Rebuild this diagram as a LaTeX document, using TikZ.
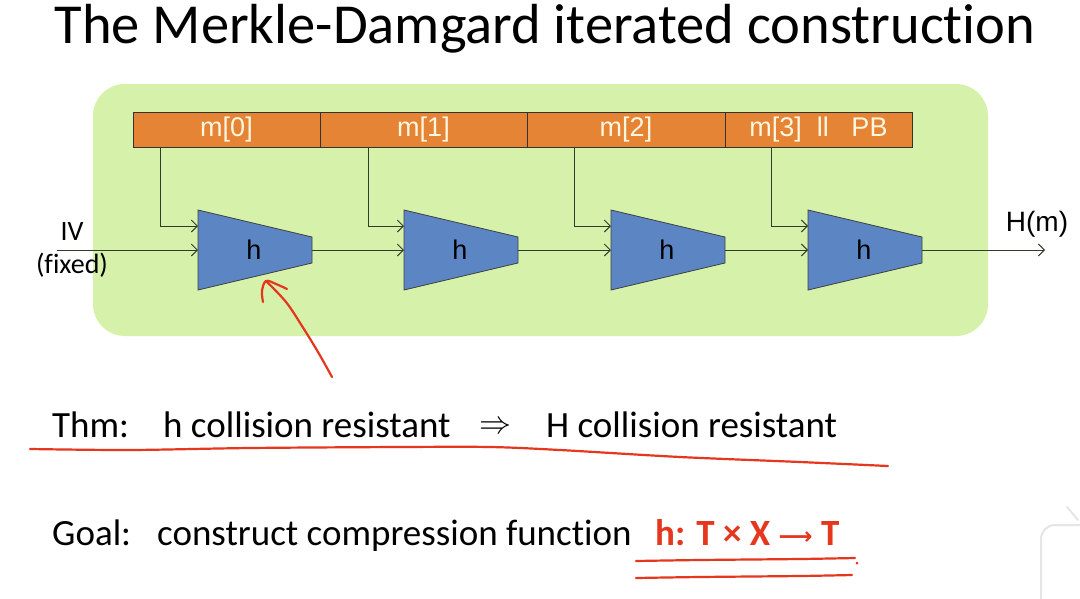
\documentclass[tikz,border=0pt]{standalone}
\usepackage{graphicx}
\usepackage{fontspec}
\setmainfont{Carlito}[Ligatures=NoCommon]
\newfontfamily\arialfont{Liberation Sans}
\newfontfamily\arrowfont{DejaVu Sans}
\usetikzlibrary{arrows.meta}

\definecolor{panelgreen}{RGB}{214,242,170}
\definecolor{msgorange}{RGB}{228,132,52}
\definecolor{msgtext}{RGB}{255,246,224}
\definecolor{hblue}{RGB}{92,133,196}
\definecolor{wire}{RGB}{50,60,45}
\definecolor{inkred}{RGB}{228,55,30}

\tikzset{
  panel/.style={fill=panelgreen, draw=none, rounded corners=32pt},
  msgcell/.style={fill=msgorange, draw=black!80, line width=0.8pt, inner sep=0pt, outer sep=0pt,
    minimum height=35pt, text=msgtext, font=\arialfont\fontsize{27}{30}\selectfont},
  hshape/.style={fill=hblue, draw=black!75, line width=0.8pt},
  hlabel/.style={font=\arialfont\fontsize{27}{30}\selectfont, inner sep=0pt},
  conn/.style={draw=wire, line width=0.9pt, -{Straight Barb[length=6pt,width=12pt]}},
  feed/.style={draw=wire, line width=0.9pt, -{Straight Barb[length=6pt,width=12pt]}},
  sidelabel/.style={font=\fontsize{28}{30}\selectfont, inner sep=0pt},
  bodytext/.style={font=\fontsize{37}{42}\selectfont, inner sep=0pt, anchor=base west},
  redpen/.style={draw=inkred, line width=2.2pt, line cap=round, line join=round},
}

\begin{document}
\begin{tikzpicture}[x=1pt,y=-1pt]
\useasboundingbox (0,0) rectangle (1080,598);
\fill[white] (0,0) rectangle (1080,598);

% title
\node[font=\fontsize{56.5}{66}\selectfont, anchor=base, inner sep=0pt] (title) at (545,43)
  {The Merkle-Damgard iterated construction};

% green panel
\path[panel] (93,84) rectangle (988,336);

% message blocks
\node[msgcell, minimum width=187pt] (m0) at (226.5,129.5) {m[0]};
\node[msgcell, minimum width=207pt] (m1) at (423.5,129.5) {m[1]};
\node[msgcell, minimum width=198pt] (m2) at (626,129.5) {m[2]};
\node[msgcell, minimum width=187pt] (m3) at (818.5,129.5) {m[3]\ \ ll\ \ \ PB};

% compression function boxes
\foreach \i/\x in {1/198,2/404,3/611,4/808} {
  \path[hshape] (\x,210) -- (\x+114,237) -- (\x+114,263) -- (\x,290) -- cycle;
  \node[hlabel] (h\i) at (\x+56,250) {h};
  \coordinate (in\i) at (\x,250);
  \coordinate (key\i) at (\x,226);
  \coordinate (out\i) at (\x+114,250);
}

% message inputs
\draw[feed] ([xshift=27pt]m0.south west) |- (key1);
\draw[feed] ([xshift=48pt]m1.south west) |- (key2);
\draw[feed] ([xshift=47pt]m2.south west) |- (key3);
\draw[feed] ([xshift=46pt]m3.south west) |- (key4);

% chaining values
\coordinate (ivstart) at (57,250);
\coordinate (hend) at (1045,250);
\draw[conn] (ivstart) -- (in1);
\draw[conn] (out1) -- (in2);
\draw[conn] (out2) -- (in3);
\draw[conn] (out3) -- (in4);
\draw[conn] (out4) -- (hend);

\node[sidelabel] (iv) at (72,232) {IV};
\node[sidelabel] (fixed) at (72,265) {(fixed)};
\node[hlabel, font=\arialfont\fontsize{28}{30}\selectfont] (hm) at (1037,224) {H(m)};

% hand-drawn arrow to the first h
\draw[redpen] plot[smooth, tension=0.6] coordinates {(332,377) (318,352) (302,326) (286,302) (267,282)};
\draw[redpen] plot[smooth, tension=0.6] coordinates {(263,302) (262,291) (266,281) (276,284) (287,289)};

% theorem
\node[bodytext] (thm) at (52,437) {Thm:};
\node[bodytext] (hcr) at (163,437) {h collision resistant};
\node[bodytext, anchor=center] (impl) at (495,428) {\resizebox{32pt}{!}{$\Rightarrow$}};
\node[bodytext] (Hcr) at (546,437) {H collision resistant};
\draw[redpen] plot[smooth, tension=0.5] coordinates {(30,449) (130,450) (250,448) (400,447) (490,447) (560,450) (680,457) (800,462) (888,466)};

% goal
\node[bodytext] (goal) at (52,545) {Goal:};
\node[bodytext] (ccf) at (157,545) {construct compression function};
\node[bodytext, text=inkred, font=\bfseries\fontsize{37}{42}\selectfont] (sig) at (655,545)
  {h: T \texttimes{} X \raisebox{1pt}{\resizebox{34pt}{!}{\arrowfont\bfseries ⟶}} T};
\draw[redpen] plot[smooth, tension=0.5] coordinates {(636,561) (700,560) (800,559) (855,558)};
\fill[inkred] (857,563) circle (1.5pt);
\draw[redpen] plot[smooth, tension=0.5] coordinates {(636,578) (700,577) (800,576) (852,575)};

% faint overlay shape in the corner
\draw[black!10, line width=2pt, rounded corners=14pt] (1082,525) -- (1041,525) -- (1041,600);
\draw[black!10, line width=2pt, line cap=round] (1067,507) -- (1078,520);
\end{tikzpicture}
\end{document}
